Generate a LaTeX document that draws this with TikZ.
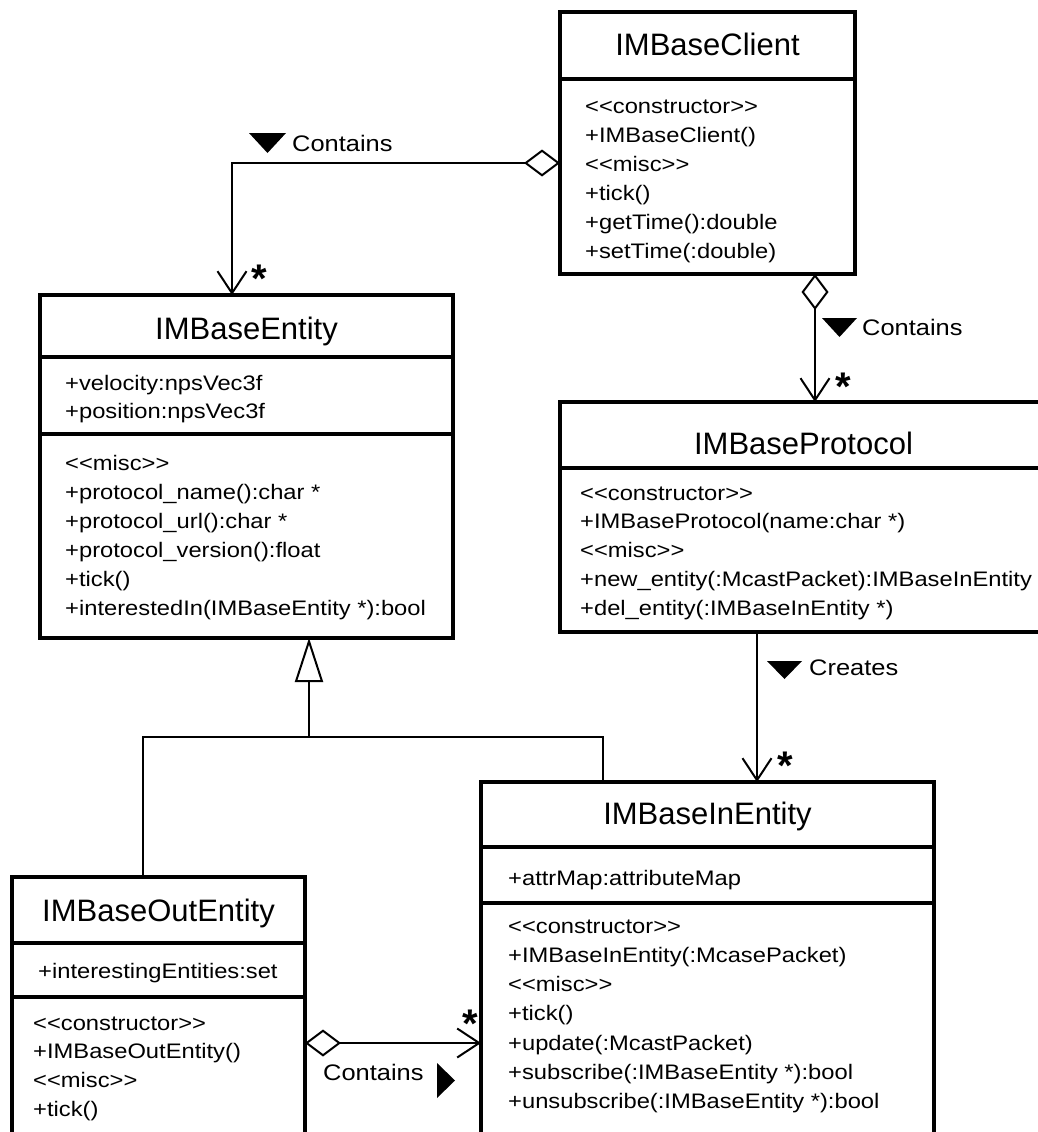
\documentclass[tikz,border=0pt]{standalone}
\usepackage{fontspec}
\setmainfont{Liberation Sans}[FakeStretch=1.13]
\newfontfamily\titlefont{Liberation Sans}
\usetikzlibrary{arrows.meta}
\newcommand\stlt{<\kern0pt<}
\newcommand\stgt{>\kern0pt>}
\tikzset{
  classbox/.style={draw, line width=4pt, inner sep=0pt, outer sep=0pt, anchor=north west, fill=white},
  divline/.style={line width=4pt},
  classtitle/.style={font=\titlefont\fontsize{31}{31}\selectfont, anchor=base, inner sep=0pt},
  member/.style={font=\fontsize{21}{21}\selectfont, anchor=base west, inner sep=0pt},
  lbl/.style={font=\fontsize{22.5}{22.5}\selectfont, anchor=base west, inner sep=0pt},
  mult/.style={font=\titlefont\bfseries\fontsize{40}{40}\selectfont, anchor=base, inner sep=0pt},
  conn/.style={line width=2pt},
  assoc/.style={conn, -{Straight Barb[length=22pt, width=29pt, line width=2pt]}},
  aggr/.style={conn, {Diamond[fill=white, length=36pt, width=27pt, line width=2pt]}-{Straight Barb[length=22pt, width=29pt, line width=2pt]}},
  gen/.style={conn, -{Triangle[fill=white, length=44pt, width=28pt, line width=2pt]}},
}
\begin{document}
\begin{tikzpicture}[x=1pt,y=-1pt]
\useasboundingbox (0,0) rectangle (1038,1132);
\clip (0,0) rectangle (1038,1132);
\fill[white] (0,0) rectangle (1038,1132);

% ---------- class boxes ----------
\node[classbox, minimum width=295pt, minimum height=262pt] (cl) at (560,12) {};
\node[classbox, minimum width=413pt, minimum height=343pt] (ent) at (40,295) {};
\node[classbox, minimum width=487pt, minimum height=230pt] (pr) at (560,402) {};
\node[classbox, minimum width=453pt, minimum height=378pt] (in) at (481,782) {};
\node[classbox, minimum width=293pt, minimum height=283pt] (out) at (12,877) {};

% dividers
\draw[divline] ([yshift=-67pt]cl.north west) -- ([yshift=-67pt]cl.north east);
\draw[divline] ([yshift=-62pt]ent.north west) -- ([yshift=-62pt]ent.north east);
\draw[divline] ([yshift=-139pt]ent.north west) -- ([yshift=-139pt]ent.north east);
\draw[divline] ([yshift=-66pt]pr.north west) -- ([yshift=-66pt]pr.north east);
\draw[divline] ([yshift=-65pt]in.north west) -- ([yshift=-65pt]in.north east);
\draw[divline] ([yshift=-121pt]in.north west) -- ([yshift=-121pt]in.north east);
\draw[divline] ([yshift=-66pt]out.north west) -- ([yshift=-66pt]out.north east);
\draw[divline] ([yshift=-120pt]out.north west) -- ([yshift=-120pt]out.north east);

% ---------- titles ----------
\node[classtitle] (cl-t) at (707.5,56) {IMBaseClient};
\node[classtitle] (ent-t) at (246.5,339) {IMBaseEntity};
\node[classtitle] (pr-t) at (803.5,454) {IMBaseProtocol};
\node[classtitle] (in-t) at (707.5,824) {IMBaseInEntity};
\node[classtitle] (out-t) at (158.5,921) {IMBaseOutEntity};

% ---------- members ----------
\foreach \t [count=\i] in {{\stlt constructor\stgt},{+IMBaseClient()},{\stlt misc\stgt},{+tick()},{+getTime():double},{+setTime(:double)}}
  \node[member] (cl-o\i) at (585,{113+(\i-1)*29}) {\t};

\foreach \t [count=\i] in {{+velocity:npsVec3f},{+position:npsVec3f}}
  \node[member] (ent-a\i) at (65,{390+(\i-1)*28.5}) {\t};
\foreach \t [count=\i] in {{\stlt misc\stgt},{+protocol\_name():char *},{+protocol\_url():char *},{+protocol\_version():float},{+tick()},{+interestedIn(IMBaseEntity *):bool}}
  \node[member] (ent-o\i) at (65,{470+(\i-1)*29}) {\t};

\foreach \t [count=\i] in {{\stlt constructor\stgt},{+IMBaseProtocol(name:char *)},{\stlt misc\stgt},{+new\_entity(:McastPacket):IMBaseInEntity},{+del\_entity(:IMBaseInEntity *)}}
  \node[member] (pr-o\i) at (580,{500+(\i-1)*28.8}) {\t};

\node[member] (in-a1) at (508,885) {+attrMap:attributeMap};
\foreach \t [count=\i] in {{\stlt constructor\stgt},{+IMBaseInEntity(:McasePacket)},{\stlt misc\stgt},{+tick()},{+update(:McastPacket)},{+subscribe(:IMBaseEntity *):bool},{+unsubscribe(:IMBaseEntity *):bool}}
  \node[member] (in-o\i) at (508,{933+(\i-1)*29.3}) {\t};

\node[member] (out-a1) at (38,978) {+interestingEntities:set};
\foreach \t [count=\i] in {{\stlt constructor\stgt},{+IMBaseOutEntity()},{\stlt misc\stgt},{+tick()}}
  \node[member] (out-o\i) at (33,{1030+(\i-1)*28.7}) {\t};

% ---------- connectors ----------
% IMBaseClient contains IMBaseEntity
\draw[aggr] ([yshift=-20pt]cl.west) -| ([xshift=-14.5pt]ent.north);
\fill (249,133) -- (286,133) -- (267.5,153) -- cycle;
\node[lbl] (lb1) at (292,151) {Contains};
\node[mult] (m1) at (259,292) {*};

% IMBaseClient contains IMBaseProtocol
\draw[aggr] ([xshift=107.5pt]cl.south) -- ([xshift=11.5pt]pr.north);
\fill (822,318) -- (857,318) -- (839.5,337) -- cycle;
\node[lbl] (lb2) at (862,335) {Contains};
\node[mult] (m2) at (843,400) {*};

% IMBaseProtocol creates IMBaseInEntity
\draw[assoc] ([xshift=-46.5pt]pr.south) -- ([xshift=49.5pt]in.north);
\fill (767,661) -- (802,661) -- (784.5,679) -- cycle;
\node[lbl] (lb3) at (809,675) {Creates};
\node[mult] (m3) at (785,779) {*};

% generalization
\coordinate (gj) at (309,737);
\draw[conn] ([xshift=-15.5pt]out.north) |- (gj);
\draw[conn] ([xshift=-104.5pt]in.north) |- (gj);
\draw[gen] (gj) -- ([xshift=62.5pt]ent.south);

% IMBaseOutEntity contains IMBaseInEntity
\draw[aggr] ([yshift=-166pt]out.north east) -- ([yshift=-166pt]out.north east -| in.west);
\node[lbl] (lb4) at (323,1080) {Contains};
\fill (437,1063) -- (437,1098) -- (455,1080.5) -- cycle;
\node[mult] (m4) at (470,1037) {*};
\end{tikzpicture}
\end{document}
